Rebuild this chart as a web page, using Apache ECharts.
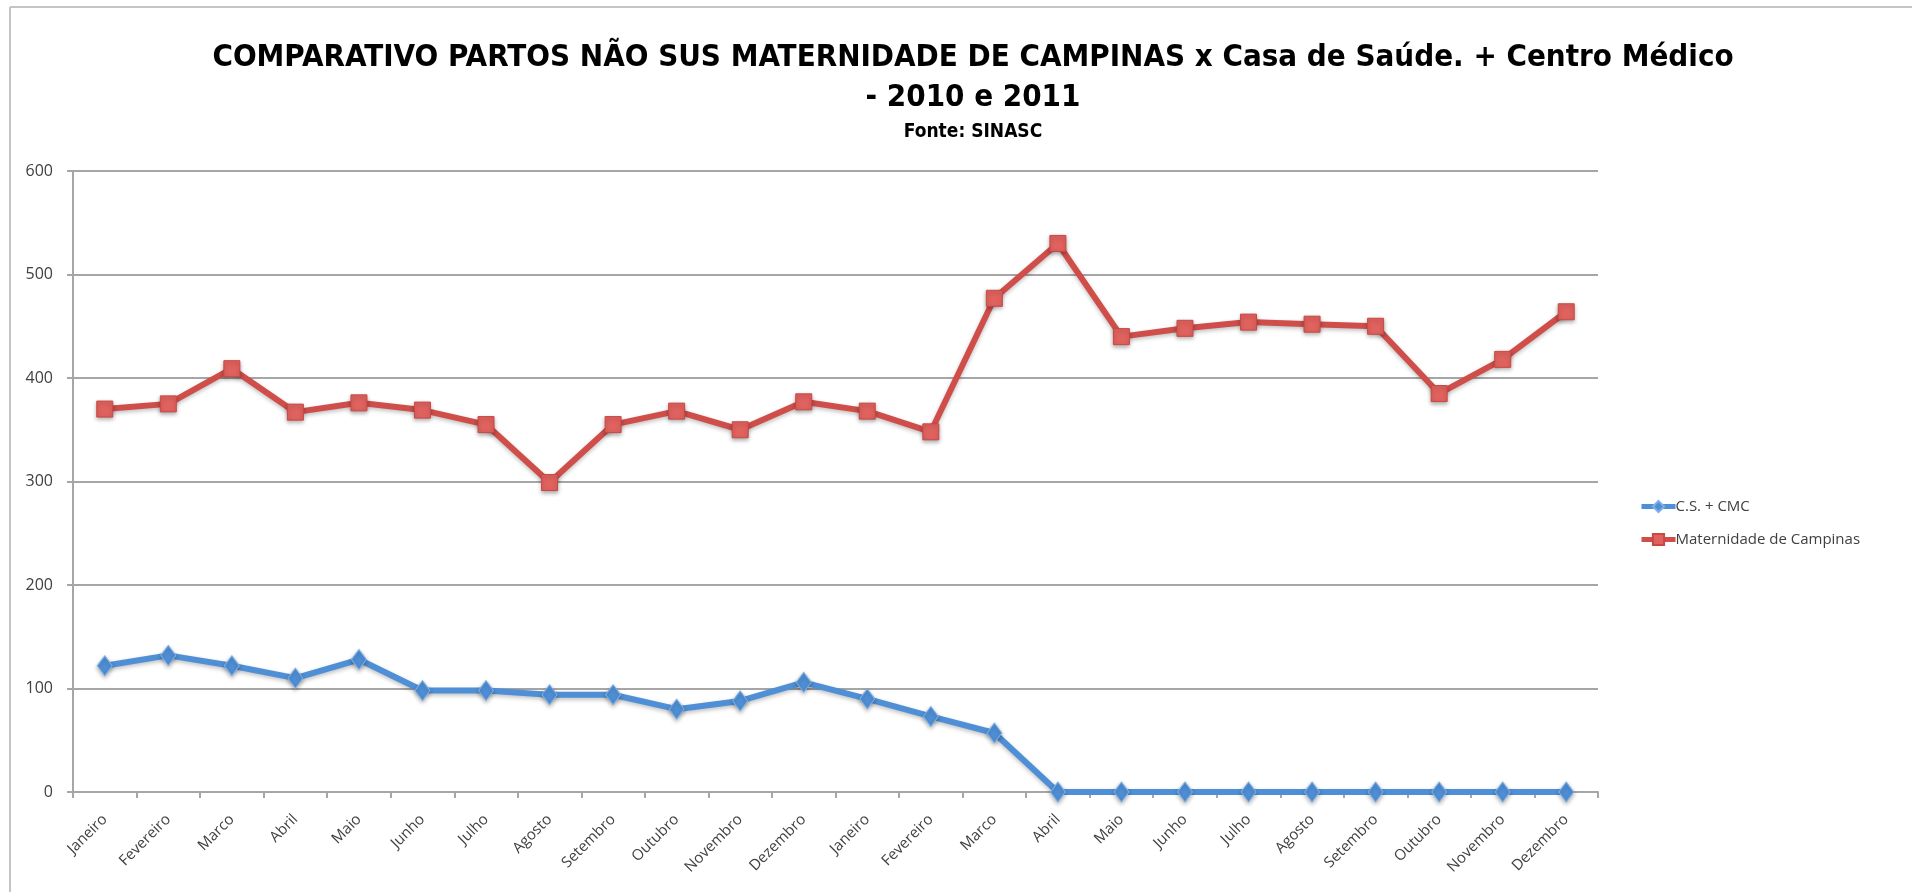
<!DOCTYPE html>
<html>
<head>
<meta charset="utf-8">
<title>Partos não SUS</title>
<script src="https://cdn.jsdelivr.net/npm/echarts@6/dist/echarts.min.js"></script>
<style>
  html, body { margin: 0; padding: 0; background: #fff; }
  #main { width: 1912px; height: 892px; }
</style>
</head>
<body>
<div id="main"></div>
<script>
// meses 2010 e 2011
const months = ['Janeiro', 'Fevereiro', 'Marco', 'Abril', 'Maio', 'Junho', 'Julho', 'Agosto',
  'Setembro', 'Outubro', 'Novembro', 'Dezembro',
  'Janeiro', 'Fevereiro', 'Marco', 'Abril', 'Maio', 'Junho', 'Julho', 'Agosto',
  'Setembro', 'Outubro', 'Novembro', 'Dezembro']
const csCmc = [122, 132, 122, 110, 128, 98, 98, 94, 94, 80, 88, 106,
  90, 73, 57, 0, 0, 0, 0, 0, 0, 0, 0, 0]
const maternidade = [370, 375, 409, 367, 376, 369, 355, 299, 355, 368, 350, 377,
  368, 348, 477, 530, 440, 448, 454, 452, 450, 385, 418, 464]
const yTicks = [0, 100, 200, 300, 400, 500, 600]

const FONT = '"Liberation Sans Narrow", "DejaVu Sans Condensed", sans-serif'
const LABEL_FONT = '"Open Sans", "Noto Sans", sans-serif'
const BLUE = '#4F8FD6'
const RED = '#CF4E4A'

const chart = echarts.init(document.getElementById('main'))

const option = {
  backgroundColor: '#fff',
  animation: false,
  title: [
    {
      text: 'COMPARATIVO PARTOS NÃO SUS MATERNIDADE DE CAMPINAS x Casa de Saúde. + Centro Médico',
      left: 968, top: 37, textAlign: 'center',
      textStyle: { fontFamily: FONT, fontWeight: 'bold', fontSize: 31, color: '#000' }
    },
    {
      text: '- 2010 e 2011',
      left: 968, top: 77, textAlign: 'center',
      textStyle: { fontFamily: FONT, fontWeight: 'bold', fontSize: 31, color: '#000' }
    },
    {
      text: 'Fonte: SINASC',
      left: 968, top: 118, textAlign: 'center',
      textStyle: { fontFamily: FONT, fontWeight: 'bold', fontSize: 19, color: '#000' }
    }
  ],
  // moldura do gráfico (borda esquerda e superior)
  graphic: [
    { type: 'line', shape: { x1: 10, y1: 7, x2: 10, y2: 892 }, style: { stroke: '#c4c4c4', lineWidth: 2 } },
    { type: 'line', shape: { x1: 10, y1: 7, x2: 1912, y2: 7 }, style: { stroke: '#c4c4c4', lineWidth: 2 } }
  ],
  legend: {
    orient: 'vertical',
    left: 1634,
    top: 494,
    itemWidth: 34,
    itemHeight: 14,
    itemGap: 18,
    lineStyle: { width: 5 },
    textStyle: { fontFamily: LABEL_FONT, fontSize: 15, color: '#404040', padding: [0, 0, 0, -5] },
    data: ['C.S. + CMC', 'Maternidade de Campinas']
  },
  grid: { left: 73, right: 314, top: 171, bottom: 100, containLabel: false },
  xAxis: {
    type: 'category',
    data: months,
    boundaryGap: true,
    axisLine: { lineStyle: { color: '#a6a6a6', width: 2 } },
    axisTick: { show: true, length: 6, interval: 0, lineStyle: { color: '#a6a6a6', width: 2 } },
    axisLabel: {
      interval: 0, rotate: 45, margin: 25,
      fontFamily: LABEL_FONT, fontSize: 15, color: '#404040'
    }
  },
  yAxis: {
    type: 'value',
    min: yTicks[0],
    max: yTicks[yTicks.length - 1],
    interval: 100,
    axisLine: { show: true, lineStyle: { color: '#a6a6a6', width: 2 } },
    axisTick: { show: true, length: 6, lineStyle: { color: '#a6a6a6', width: 2 } },
    axisLabel: { margin: 20, fontFamily: LABEL_FONT, fontSize: 16, color: '#404040' },
    splitLine: { lineStyle: { color: '#a6a6a6', width: 2 } }
  },
  series: [
    {
      name: 'C.S. + CMC',
      type: 'line',
      data: csCmc,
      symbol: 'diamond',
      symbolSize: [15, 20],
      lineStyle: { color: BLUE, width: 6, shadowColor: 'rgba(0,0,0,0.25)', shadowBlur: 4, shadowOffsetY: 2 },
      itemStyle: { color: BLUE, borderColor: '#7fb0e6', borderWidth: 1, shadowColor: 'rgba(0,0,0,0.3)', shadowBlur: 4, shadowOffsetY: 2 },
      z: 3
    },
    {
      name: 'Maternidade de Campinas',
      type: 'line',
      data: maternidade,
      symbol: 'rect',
      symbolSize: 16,
      lineStyle: { color: RED, width: 6, shadowColor: 'rgba(0,0,0,0.25)', shadowBlur: 4, shadowOffsetY: 2 },
      itemStyle: { color: '#e0625e', borderColor: '#c94844', borderWidth: 1, shadowColor: 'rgba(0,0,0,0.3)', shadowBlur: 4, shadowOffsetY: 2 },
      z: 3
    }
  ]
}

chart.setOption(option)
</script>
</body>
</html>
